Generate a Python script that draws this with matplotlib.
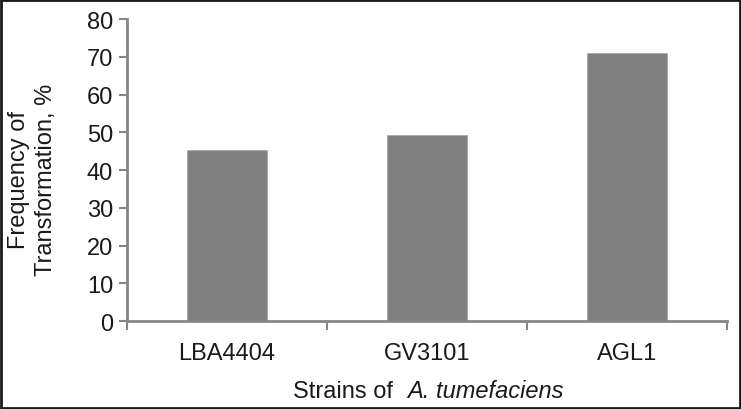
import matplotlib
matplotlib.use('Agg')
from matplotlib import pyplot as plt
from matplotlib.patches import Rectangle

plt.rcParams['font.family'] = ['Liberation Sans', 'DejaVu Sans']

# Data
strains = ['LBA4404', 'GV3101', 'AGL1']
frequency = [45.4, 49.2, 71.0]
y_ticks = [0, 10, 20, 30, 40, 50, 60, 70, 80]

axis_grey = '#868686'
text_col = '#1a1a1a'
fs = 17

fig = plt.figure(figsize=(7.41, 4.10), dpi=100)
ax = fig.add_axes([0.1714, 0.2146, 0.8096, 0.7366])

x = list(range(len(strains)))
ax.bar(x, frequency, width=0.4, color='#7f807f', edgecolor='#a8a8a8', linewidth=0.6)

ax.set_xlim(-0.5, len(strains) - 0.5)
ax.set_ylim(0, 80)
ax.set_yticks(y_ticks)

# ticks at category boundaries, labels at category centres
ax.set_xticks([i - 0.5 for i in range(len(strains) + 1)])
ax.set_xticklabels([])
ax.set_xticks(x, minor=True)
ax.set_xticklabels(strains, minor=True)
ax.tick_params(axis='x', which='major', direction='out', length=6.5, width=1.5, color=axis_grey)
ax.tick_params(axis='x', which='minor', length=0, pad=15, labelsize=fs, labelcolor=text_col)
ax.tick_params(axis='y', direction='out', length=6, width=1.5, color=axis_grey, pad=4,
               labelsize=fs, labelcolor=text_col)

for side in ['top', 'right']:
    ax.spines[side].set_visible(False)
for side in ['left', 'bottom']:
    ax.spines[side].set_color(axis_grey)
    ax.spines[side].set_linewidth(2)

# y label (two lines) and x label with italic species name
fig.text(0.044, 0.561, 'Frequency of\nTransformation, %', rotation=90, ha='center', va='center',
         multialignment='center', fontsize=fs, color=text_col, linespacing=1.3)
fig.text(0.3954, 0.0293, 'Strains of', ha='left', va='baseline', fontsize=fs, color=text_col)
fig.text(0.5493, 0.0293, 'A. tumefaciens', ha='left', va='baseline', fontsize=fs,
         color=text_col, style='italic')

# border around the whole picture
fig.patches.append(Rectangle((0.002, 0.003), 0.996, 0.994, transform=fig.transFigure,
                             fill=False, edgecolor=text_col, linewidth=2))

fig.savefig('out.png', dpi=100)
